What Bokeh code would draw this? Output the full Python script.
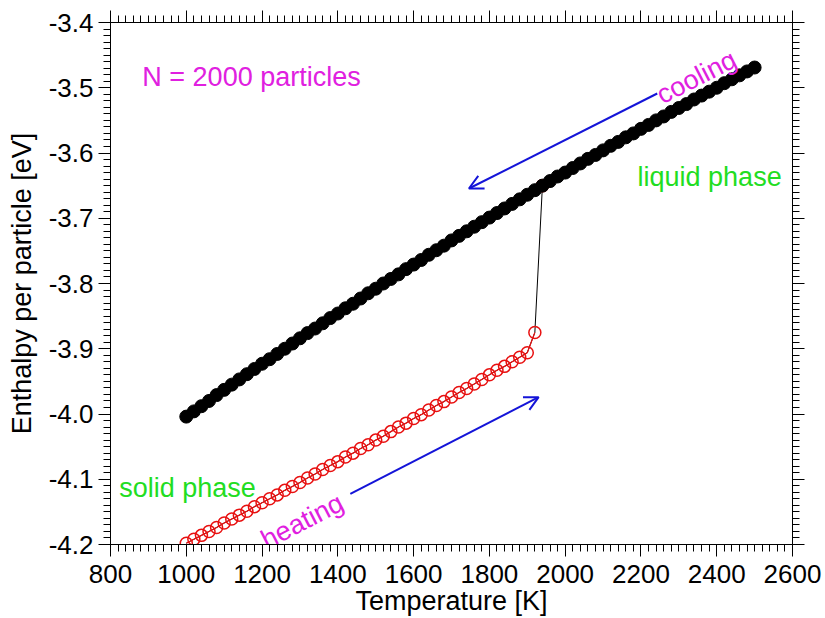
from bokeh.plotting import figure
from bokeh.models import (LinearAxis, SingleIntervalTicker, PrintfTickFormatter,
                          Range1d, Arrow, OpenHead, ColumnDataSource,
                          CustomLabelingPolicy)
from bokeh.core.properties import value
from bokeh.embed import file_html
from bokeh.resources import INLINE

# ---------------- data ----------------
# cooling run (liquid, supercooled) : temperature [K]
cool_T = [1000 + 20 * i for i in range(76)]
cool_E = [-4.004, -3.996, -3.988, -3.980, -3.971, -3.963, -3.955, -3.947, -3.939, -3.931,
          -3.923, -3.916, -3.908, -3.900, -3.892, -3.884, -3.876, -3.869, -3.861, -3.853,
          -3.846, -3.838, -3.831, -3.823, -3.815, -3.808, -3.800, -3.793, -3.786, -3.778,
          -3.771, -3.764, -3.756, -3.749, -3.742, -3.734, -3.727, -3.720, -3.713, -3.706,
          -3.699, -3.692, -3.685, -3.678, -3.671, -3.664, -3.657, -3.650, -3.643, -3.636,
          -3.630, -3.623, -3.616, -3.609, -3.603, -3.596, -3.589, -3.583, -3.576, -3.570,
          -3.563, -3.557, -3.550, -3.544, -3.537, -3.531, -3.525, -3.518, -3.512, -3.506,
          -3.500, -3.493, -3.487, -3.481, -3.475, -3.469]

# heating run (solid, then melting)
heat_T = [1000 + 20 * i for i in range(46)] + [1920, 1940]
heat_E = [-4.198, -4.192, -4.186, -4.180, -4.174, -4.167, -4.161, -4.155, -4.149, -4.142,
          -4.136, -4.130, -4.124, -4.117, -4.111, -4.105, -4.098, -4.092, -4.085, -4.079,
          -4.073, -4.066, -4.060, -4.053, -4.047, -4.040, -4.034, -4.027, -4.020, -4.014,
          -4.007, -4.001, -3.994, -3.987, -3.981, -3.974, -3.967, -3.961, -3.954, -3.947,
          -3.940, -3.933, -3.927, -3.920, -3.913, -3.906,
          -3.875, -3.650]
n_solid = 47  # heating points still in the solid phase

# tick definitions
x_major = 200
y_major = 0.1
n_minor = 10

# annotations
ann_text = ["N = 2000 particles", "liquid phase", "solid phase", "cooling", "heating"]
ann_x = [884, 2191, 823, 2246, 1202]
ann_y = [-3.4838, -3.637, -4.113, -3.5134, -4.1954]
ann_angle = [0.0, 0.0, 0.0, 0.471, 0.475]
ann_color = ["#e020e0", "#22dd22", "#22dd22", "#e020e0", "#e020e0"]

arrow_x0 = [2243, 1433]
arrow_y0 = [-3.5088, -4.1223]
arrow_x1 = [1746, 1930]
arrow_y1 = [-3.6544, -3.9742]

FONT = "Liberation Sans"
FS_TICK = "26px"
FS_TITLE = "27px"
FS_ANN = "27px"

# ---------------- figure ----------------
p = figure(width=825, height=618,
           x_range=Range1d(800, 2600), y_range=Range1d(-4.2, -3.4),
           x_axis_location=None, y_axis_location=None,
           output_backend="svg", toolbar_location=None,
           min_border_left=110, min_border_right=33,
           min_border_top=22, min_border_bottom=74)
p.outline_line_color = "black"
for g in p.grid:
    g.visible = False

xt = SingleIntervalTicker(interval=x_major, num_minor_ticks=n_minor)
yt = SingleIntervalTicker(interval=y_major, num_minor_ticks=n_minor)


def style(ax, labels):
    ax.axis_line_color = "black"
    ax.axis_line_width = 1
    ax.major_tick_in = 0
    ax.major_tick_out = 12
    ax.minor_tick_in = 0
    ax.minor_tick_out = 7
    ax.major_tick_line_color = "black"
    ax.minor_tick_line_color = "black"
    ax.major_label_text_font = FONT
    ax.axis_label_text_font = FONT
    ax.axis_label_text_font_style = "normal"
    ax.axis_label_text_color = "black"
    ax.major_label_text_color = "black"
    if labels:
        ax.major_label_text_font_size = FS_TICK
        ax.axis_label_text_font_size = FS_TITLE
    else:
        # tick marks only: no labels at all on the top / right frame axes
        ax.major_label_policy = CustomLabelingPolicy(code="return")
        ax.major_label_text_font_size = "0px"
        ax.major_label_standoff = 0
        ax.axis_label_standoff = 0


bottom = LinearAxis(ticker=xt, formatter=PrintfTickFormatter(format="%d"),
                    axis_label="Temperature [K]")
style(bottom, True)
bottom.major_label_standoff = 8
bottom.axis_label_standoff = 0
p.add_layout(bottom, "below")

top = LinearAxis(ticker=xt)
style(top, False)
p.add_layout(top, "above")

left = LinearAxis(ticker=yt, formatter=PrintfTickFormatter(format="%.1f"),
                  axis_label="Enthalpy per particle [eV]")
style(left, True)
left.major_label_standoff = 5
left.axis_label_standoff = 9
p.add_layout(left, "left")

right = LinearAxis(ticker=yt)
style(right, False)
p.add_layout(right, "right")

# heating: thin black connecting line, red line in the solid part, open red circles
p.line(heat_T, heat_E, line_color="black", line_width=1)
p.line(heat_T[:n_solid], heat_E[:n_solid], line_color="#e81010", line_width=1.2)
p.scatter(heat_T, heat_E, marker="circle", size=12, line_color="#e81010",
          fill_color=None, line_width=1.5)

# cooling: filled black circles
p.scatter(cool_T, cool_E, marker="circle", size=13, line_color="black",
          fill_color="black")

# arrows
for xs, ys, xe, ye in zip(arrow_x0, arrow_y0, arrow_x1, arrow_y1):
    p.add_layout(Arrow(end=OpenHead(size=14, line_color="#1414d8", line_width=2),
                       x_start=xs, y_start=ys, x_end=xe, y_end=ye,
                       line_color="#1414d8", line_width=2))

src = ColumnDataSource(dict(x=ann_x, y=ann_y, text=ann_text, angle=ann_angle,
                            color=ann_color))
p.text(x="x", y="y", text="text", angle="angle", text_color="color", source=src,
       text_font=value(FONT), text_font_size=value(FS_ANN),
       text_align="left", text_baseline="alphabetic")

open("out.html", "w").write(file_html(p, INLINE))
